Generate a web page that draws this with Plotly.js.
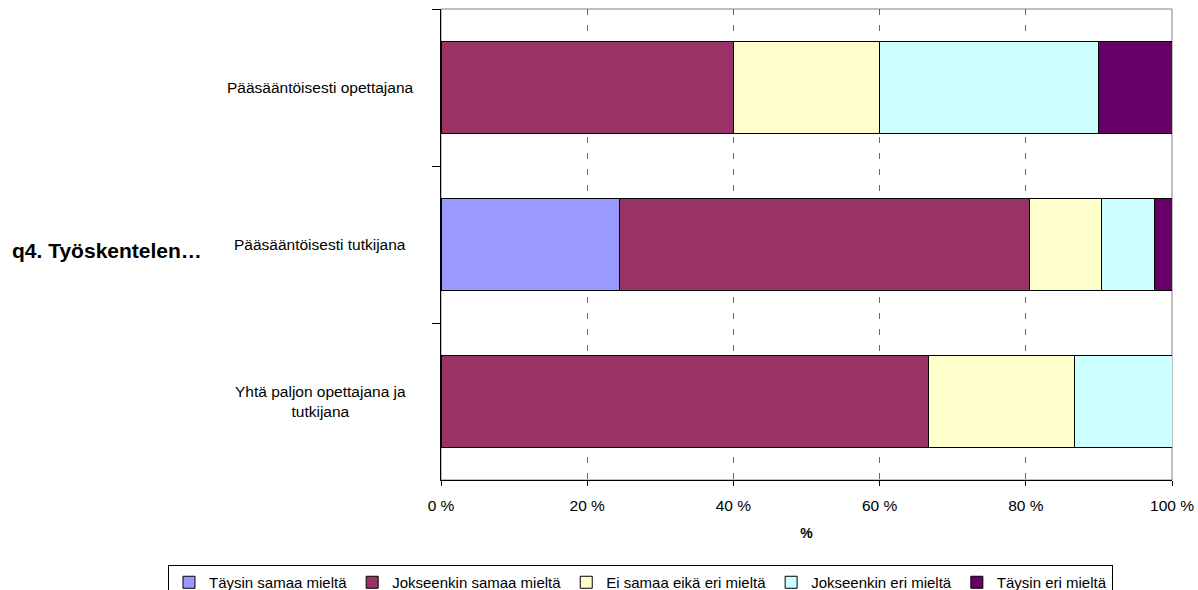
<!DOCTYPE html>
<html>
<head>
<meta charset="utf-8">
<script src="https://cdn.plot.ly/plotly-3.0.1.min.js"></script>
<style>html,body{margin:0;padding:0;background:#fff;}#chart{width:1198px;height:590px;}</style>
</head>
<body>
<div id="chart"></div>
<script>
const categories = ['Pääsääntöisesti opettajana', 'Pääsääntöisesti tutkijana', 'Yhtä paljon opettajana ja tutkijana'];
const categoryLabels = ['Pääsääntöisesti opettajana', 'Pääsääntöisesti tutkijana', 'Yhtä paljon opettajana ja<br>tutkijana'];
const groupLabel = 'q4. Työskentelen…';
const seriesNames = ['Täysin samaa mieltä', 'Jokseenkin samaa mieltä', 'Ei samaa eikä eri mieltä', 'Jokseenkin eri mieltä', 'Täysin eri mieltä'];
const taysinSamaa = [0, 24.4, 0];
const jokseenkinSamaa = [40, 56.1, 66.7];
const eiSamaaEikaEri = [20, 9.8, 20];
const jokseenkinEri = [30, 7.3, 13.3];
const taysinEri = [10, 2.4, 0];
const seriesValues = [taysinSamaa, jokseenkinSamaa, eiSamaaEikaEri, jokseenkinEri, taysinEri];
const colors = ['#9999FF', '#993366', '#FFFFCC', '#CCFFFF', '#660066'];
const xTicks = [0, 20, 40, 60, 80, 100];

const font = {family: 'Liberation Sans, Arial, sans-serif', size: 15.5, color: '#000'};

const traces = seriesNames.map((name, i) => ({
  type: 'bar',
  orientation: 'h',
  name: name,
  y: categories,
  x: seriesValues[i],
  marker: {color: colors[i], line: {color: '#000', width: 1}},
  hoverinfo: 'name+x'
}));

const annotations = categories.map((c, i) => ({
  xref: 'paper', yref: 'y', x: -0.1655, y: c,
  text: categoryLabels[i], showarrow: false, xanchor: 'center', yanchor: 'middle',
  font: font, align: 'center'
}));
annotations.push({
  xref: 'paper', yref: 'paper', x: -0.457, y: 0.488,
  text: '<b>' + groupLabel + '</b>', showarrow: false, xanchor: 'center', yanchor: 'middle',
  font: {family: font.family, size: 21, color: '#000'}
});

const layout = {
  width: 1198, height: 590,
  margin: {l: 441, r: 26, t: 9, b: 110, autoexpand: false},
  paper_bgcolor: '#fff', plot_bgcolor: '#fff',
  barmode: 'stack',
  bargap: 0.41,
  font: font,
  showlegend: true,
  legend: {
    orientation: 'h', traceorder: 'normal',
    x: -0.3735, xanchor: 'left', y: -0.1805, yanchor: 'top',
    bordercolor: '#000', borderwidth: 1, bgcolor: '#fff',
    font: {family: font.family, size: 15, color: '#000'},
    itemclick: false, itemwidth: 30, tracegroupgap: 0
  },
  xaxis: {
    range: [0, 100], tickvals: xTicks, ticktext: xTicks.map(v => v + ' %'),
    showgrid: true, gridcolor: '#666', griddash: '6px,10px', gridwidth: 1,
    zeroline: false, showline: true, linecolor: '#000', linewidth: 1,
    ticks: 'outside', ticklen: 5, tickcolor: '#000', ticklabelstandoff: 6,
    tickfont: font, fixedrange: true,
    title: {text: '<b>%</b>', font: {family: font.family, size: 14, color: '#000'}, standoff: 15}
  },
  yaxis: {
    type: 'category', autorange: 'reversed',
    showticklabels: false, showgrid: false, zeroline: false,
    showline: true, linecolor: '#000', linewidth: 1,
    ticks: 'outside', ticklen: 8, tickcolor: '#000', tickson: 'boundaries',
    fixedrange: true
  },
  shapes: [{
    type: 'rect', xref: 'paper', yref: 'paper', x0: 0, x1: 1, y0: 0, y1: 1,
    line: {color: '#808080', width: 1}, layer: 'below'
  }],
  annotations: annotations
};

Plotly.newPlot('chart', traces, layout, {displayModeBar: false, staticPlot: true});
</script>
</body>
</html>
